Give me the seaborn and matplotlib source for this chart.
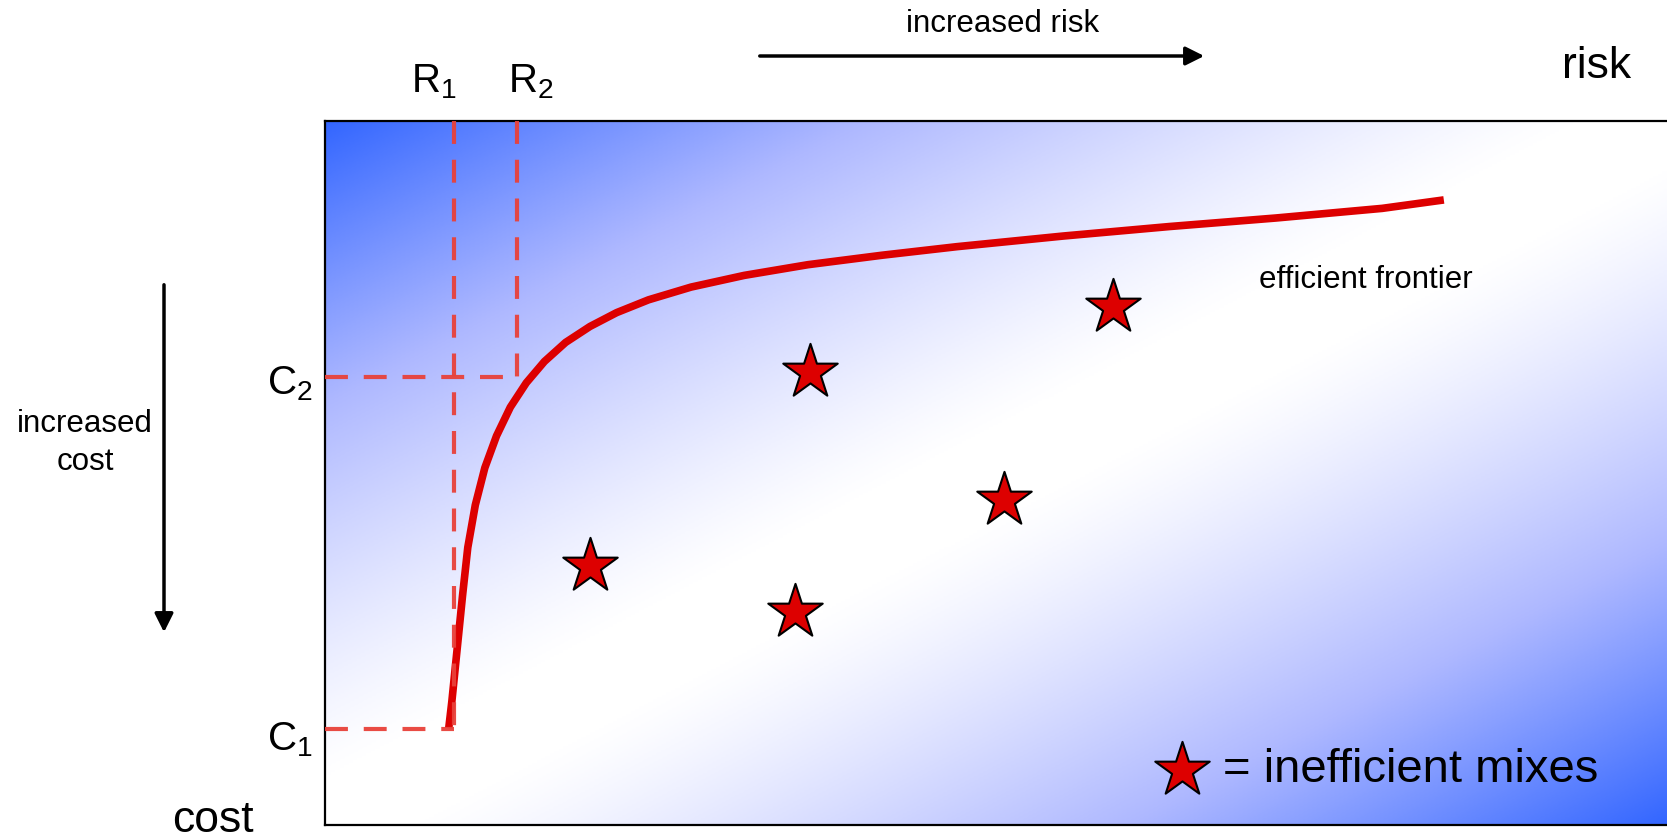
import numpy as np
import matplotlib
matplotlib.use("Agg")
import matplotlib.pyplot as plt
from matplotlib.patches import FancyArrowPatch
from matplotlib.colors import LinearSegmentedColormap
import seaborn as sns

# --- chart values (risk to the right, cost downwards, 0..100 on both) ---
frontier_risk = [9.22, 9.45, 9.69, 9.93, 10.25, 10.64, 11.20, 11.91, 12.78, 13.81,
                 15.00, 16.35, 17.93, 19.75, 21.73, 24.11, 27.28, 31.24, 35.99, 41.54,
                 47.09, 55.01, 62.93, 70.85, 78.78, 83.37]
frontier_cost = [86.26, 82.49, 77.96, 73.43, 67.39, 60.58, 54.55, 49.26, 44.73, 40.65,
                 37.19, 34.16, 31.45, 29.18, 27.22, 25.40, 23.59, 21.93, 20.41, 19.06,
                 17.85, 16.34, 14.99, 13.78, 12.41, 11.21]

mix_risk = [19.75, 35.02, 36.14, 50.60, 58.72]
mix_cost = [63.2, 69.7, 35.7, 53.8, 26.4]

risk_marks = [9.61, 14.31]      # R1, R2
cost_marks = [86.4, 36.4]       # C1, C2
risk_labels = [r'$\mathregular{R_1}$', r'$\mathregular{R_2}$']
cost_labels = [r'$\mathregular{C_1}$', r'$\mathregular{C_2}$']

W, H = 1667, 839
RED = '#DD0000'
DASH_RED = '#E8413A'

sns.set_theme(style="white")
plt.rcParams['font.family'] = ['Liberation Sans', 'DejaVu Sans']
plt.rcParams['text.color'] = 'black'
plt.rcParams['mathtext.fontset'] = 'custom'
plt.rcParams['mathtext.rm'] = 'Liberation Sans'


def fx(px):
    return px / W


def fy(py):
    return 1 - py / H


fig = plt.figure(figsize=(W / 100, H / 100), dpi=100)
ax = fig.add_axes([325 / W, 1 - 825 / H, 1 - 325 / W, (825 - 121) / H])

# background: blue -> white -> blue diagonal gradient
bg_cmap = LinearSegmentedColormap.from_list('bg', ['#FFFFFF', '#AEB8FF', '#3366FF'])
gx, gy = np.meshgrid(np.linspace(0, 1, 600), np.linspace(0, 1, 300))
u = (gx + gy) / 2
t = np.clip((np.abs(1 - 2 * u) - 0.06) / 0.94, 0, 1) ** 1.25
ax.imshow(t, cmap=bg_cmap, vmin=0, vmax=1, extent=[0, 100, 100, 0], aspect='auto',
          zorder=0, interpolation='bilinear')

# efficient frontier
sns.lineplot(x=frontier_risk, y=frontier_cost, ax=ax, color=RED, lw=5.5, sort=False,
             zorder=3, solid_capstyle='butt', solid_joinstyle='round')

# dashed reference lines
dash = (0, (5.5, 3.8))
r1, r2 = risk_marks
c1, c2 = cost_marks
ax.plot([r1, r1], [0, c1], color=DASH_RED, lw=3, ls=dash, zorder=4, alpha=0.95)
ax.plot([0, r1], [c1, c1], color=DASH_RED, lw=3, ls=dash, zorder=4, alpha=0.95)
ax.plot([r2, r2], [0, c2], color=DASH_RED, lw=3, ls=dash, zorder=4, alpha=0.95)
ax.plot([0, r2], [c2, c2], color=DASH_RED, lw=3, ls=dash, zorder=4, alpha=0.95)

# inefficient mixes
sns.scatterplot(x=mix_risk, y=mix_cost, ax=ax, marker='*', s=1700, color=RED,
                edgecolor='black', linewidth=1.5, zorder=5)

ax.set_xlim(0, 100)
ax.set_ylim(100, 0)
ax.set_xticks([])
ax.set_yticks([])
ax.set_xlabel('')
ax.set_ylabel('')
for side in ['left', 'top', 'bottom']:
    ax.spines[side].set_color('black')
    ax.spines[side].set_linewidth(1.6)
ax.spines['right'].set_visible(False)

# legend star + text
ax.scatter([0.6386], [0.078], transform=ax.transAxes, marker='*', s=1700, color=RED,
           edgecolor='black', linewidth=1.5, zorder=6, clip_on=False)
fig.text(fx(1223), fy(770), '= inefficient mixes', fontsize=34, va='center', ha='left')

# labels
fig.text(fx(1366), fy(280), 'efficient frontier', fontsize=22.5, ha='center', va='center')
fig.text(fx(1003), fy(24), 'increased risk', fontsize=22.5, ha='center', va='center')
fig.text(fx(85), fy(443), 'increased\ncost', fontsize=22.5, ha='center', va='center',
         linespacing=1.35)
fig.text(fx(1597), fy(66), 'risk', fontsize=32, ha='center', va='center')
fig.text(fx(213), fy(820), 'cost', fontsize=32, ha='center', va='center')

fig.text(fx(434), fy(82), risk_labels[0], fontsize=29, ha='center', va='center')
fig.text(fx(531), fy(82), risk_labels[1], fontsize=29, ha='center', va='center')
fig.text(fx(290), fy(740), cost_labels[0], fontsize=29, ha='center', va='center')
fig.text(fx(290), fy(384), cost_labels[1], fontsize=29, ha='center', va='center')

# direction arrows
arrow = dict(arrowstyle='-|>', lw=2.5, color='black', mutation_scale=28)
fig.add_artist(FancyArrowPatch((fx(757), fy(56)), (fx(1207), fy(56)),
                               transform=fig.transFigure, **arrow))
fig.add_artist(FancyArrowPatch((fx(164), fy(282)), (fx(164), fy(635)),
                               transform=fig.transFigure, **arrow))

fig.savefig('out.png', dpi=100)
